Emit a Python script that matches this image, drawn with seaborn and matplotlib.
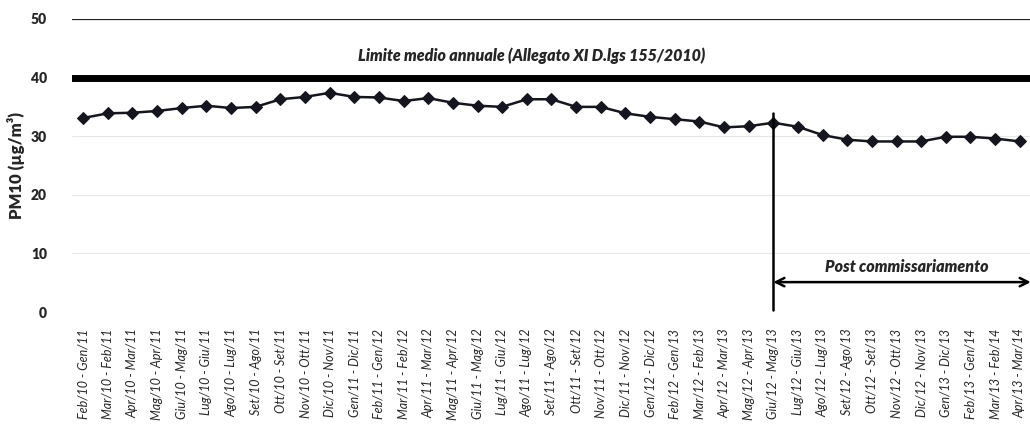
import pandas as pd
import seaborn as sns
import matplotlib.pyplot as plt

# rolling 12-month windows, from "Feb/10 - Gen/11" to "Apr/13 - Mar/14"
periods = [
    'Feb/10 - Gen/11', 'Mar/10 - Feb/11', 'Apr/10 - Mar/11', 'Mag/10 - Apr/11',
    'Giu/10 - Mag/11', 'Lug/10 - Giu/11', 'Ago/10 - Lug/11', 'Set/10 - Ago/11',
    'Ott/10 - Set/11', 'Nov/10 - Ott/11', 'Dic/10 - Nov/11', 'Gen/11 - Dic/11',
    'Feb/11 - Gen/12', 'Mar/11 - Feb/12', 'Apr/11 - Mar/12', 'Mag/11 - Apr/12',
    'Giu/11 - Mag/12', 'Lug/11 - Giu/12', 'Ago/11 - Lug/12', 'Set/11 - Ago/12',
    'Ott/11 - Set/12', 'Nov/11 - Ott/12', 'Dic/11 - Nov/12', 'Gen/12 - Dic/12',
    'Feb/12 - Gen/13', 'Mar/12 - Feb/13', 'Apr/12 - Mar/13', 'Mag/12 - Apr/13',
    'Giu/12 - Mag/13', 'Lug/12 - Giu/13', 'Ago/12 - Lug/13', 'Set/12 - Ago/13',
    'Ott/12 - Set/13', 'Nov/12 - Ott/13', 'Dic/12 - Nov/13', 'Gen/13 - Dic/13',
    'Feb/13 - Gen/14', 'Mar/13 - Feb/14', 'Apr/13 - Mar/14',
]

pm10 = [
    33.1, 33.9, 34.0, 34.3, 34.8, 35.2, 34.8, 35.0, 36.3, 36.7,
    37.4, 36.7, 36.6, 36.0, 36.5, 35.7, 35.2, 35.0, 36.3, 36.3,
    35.0, 35.0, 33.9, 33.3, 32.9, 32.5, 31.5, 31.7, 32.3, 31.6,
    30.2, 29.4, 29.1, 29.1, 29.1, 29.9, 29.9, 29.6, 29.1,
]

limit_value = 40
top_value = 50
post_start = 'Giu/12 - Mag/13'

df = pd.DataFrame({'periodo': periods, 'pm10': pm10})
df['x'] = range(len(df))

sns.set_style('white')
plt.rcParams['font.family'] = ['Lato', 'DejaVu Sans']

fig = plt.figure(figsize=(10.30, 4.41), dpi=100)
ax = fig.add_axes([0.070, 0.2925, 0.932, 0.6645])

# faint scan-like grid
for v in range(10, 50, 10):
    ax.axhline(v, color='#e6e6e6', lw=0.8, zorder=0)

sns.lineplot(data=df, x='x', y='pm10', ax=ax, color='#15151f', lw=1.8,
             marker='D', markersize=6, markeredgecolor='#15151f', zorder=3)

ax.axhline(top_value, color='#222222', lw=1.6, zorder=2)
ax.axhline(limit_value, color='black', lw=5, zorder=2)
ax.text(18.2, 43.7, 'Limite medio annuale (Allegato XI D.lgs 155/2010)',
        fontsize=11.5, fontweight='heavy', fontstyle='italic', ha='center', va='center')

ix = periods.index(post_start)
ax.plot([ix, ix], [0.3, pm10[ix] + 1.7], color='black', lw=1.8, zorder=4)
ax.annotate('', xy=(38.45, 5.1), xytext=(ix, 5.1),
            arrowprops=dict(arrowstyle='<->', color='black', lw=1.8,
                            mutation_scale=15, shrinkA=0, shrinkB=0))
ax.text(33.4, 7.6, 'Post commissariamento', fontsize=11.5, fontweight='heavy',
        fontstyle='italic', ha='center', va='center')

ax.set_xlim(-0.45, 38.5)
ax.set_ylim(0, 50)
ax.set_yticks(range(0, 51, 10))
ax.set_yticklabels([str(v) for v in range(0, 51, 10)], fontsize=10, fontweight='heavy')
ax.set_xticks(df['x'])
ax.set_xticklabels(periods, rotation=90, fontsize=9, fontstyle='italic')
ax.tick_params(axis='x', length=0, pad=12)
ax.tick_params(axis='y', length=0, pad=18)
ax.set_xlabel('')
ax.set_ylabel('PM10 (µg/m³)', fontsize=12, fontweight='heavy', labelpad=4)

for s in ax.spines.values():
    s.set_visible(False)

fig.savefig('out.png', dpi=100)
